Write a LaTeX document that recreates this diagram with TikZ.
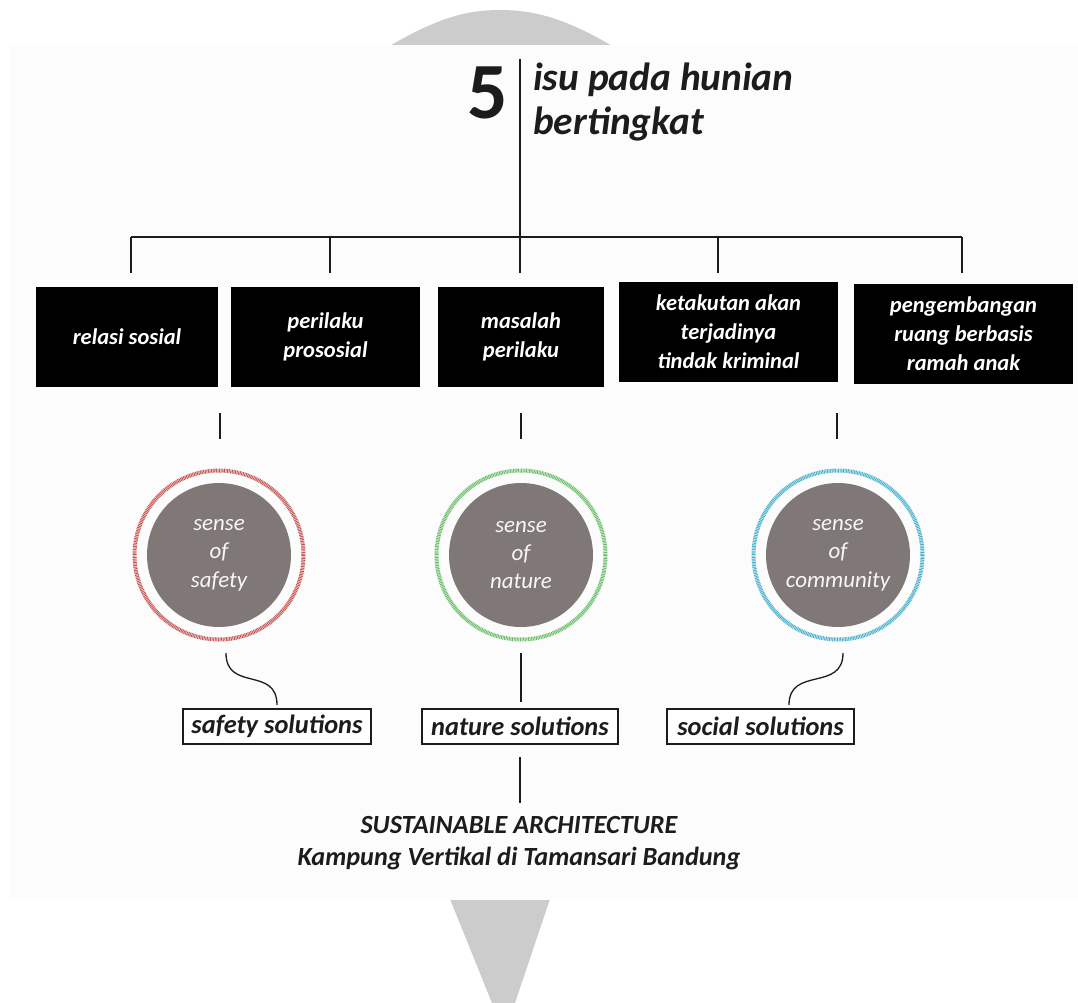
\documentclass[tikz,border=0pt]{standalone}
\usepackage{fontspec}
\setmainfont{Carlito}
\definecolor{bggray}{RGB}{204,204,204}
\definecolor{panel}{RGB}{252,252,252}
\definecolor{diskgray}{RGB}{127,120,119}
\definecolor{ringred}{RGB}{196,84,80}
\definecolor{ringgreen}{RGB}{104,190,104}
\definecolor{ringblue}{RGB}{70,176,204}
\definecolor{ink}{RGB}{28,28,28}
\begin{document}
\begin{tikzpicture}[x=1bp,y=-1bp,
  conn/.style={line width=1.3bp, draw=ink},
  issuebox/.style={fill=black, text=white, minimum height=100bp, minimum width=#1,
    inner sep=0pt, align=center, font=\fontsize{22.6}{29}\selectfont\bfseries\itshape},
  sensedisk/.style={circle, fill=diskgray, minimum size=144bp, inner sep=0pt,
    text=white!94!gray, align=center, font=\fontsize{23}{28.5}\selectfont\itshape},
  ring/.style={line width=4bp, dash pattern=on 0.9bp off 0.7bp},
  solbox/.style={draw=ink, line width=1.3bp, fill=white, minimum height=35bp,
    minimum width=#1, inner sep=0pt, text=ink, font=\fontsize{26.5}{30}\selectfont\bfseries\itshape},
]
\useasboundingbox (0,0) rectangle (1078,1003);
\fill[white] (0,0) rectangle (1078,1003);

% grey arrow shape behind the sheet
\fill[bggray] (388,47) .. controls (440,16) and (470,10) .. (500,10)
  .. controls (530,10) and (562,16) .. (614,47) -- cycle;
\fill[bggray] (450,899) -- (550,899) -- (515,1003) -- (492,1003) -- cycle;

% the sheet
\fill[panel] (10,45) rectangle (1078,900);

% title
\node[inner sep=0pt, text=ink, font=\fontsize{80}{80}\selectfont\bfseries] (num) at (487.5,92.5) {5};
\node[anchor=west, inner sep=0pt, align=left, text=ink,
  font=\fontsize{39.5}{45}\selectfont\bfseries\itshape] (title) at (533,102) {isu pada hunian\\bertingkat};

% tree
\coordinate (top) at (520,59);
\coordinate (hub) at (520,237);
\coordinate (barL) at (131,237);
\coordinate (barR) at (962,237);
\draw[conn] (top) -- (hub);
\draw[line width=2.2bp, draw=ink] (barL) -- (barR);

\node[issuebox=182bp] (i1) at (127,337) {relasi sosial};
\node[issuebox=189bp] (i2) at (325.5,337) {perilaku\\prososial};
\node[issuebox=166bp] (i3) at (521,337) {masalah\\perilaku};
\node[issuebox=219bp] (i4) at (728.5,332) {ketakutan akan\\terjadinya\\tindak kriminal};
\node[issuebox=219bp] (i5) at (963.5,334) {pengembangan\\ruang berbasis\\ramah anak};

\foreach \x/\n in {131/1,330/2,520/3,718/4,962/5}{
  \coordinate (d\n a) at (\x,237);
  \coordinate (d\n b) at (\x,273);
  \draw[conn] (d\n a) -- (d\n b);
}

% senses
\node[sensedisk] (safe) at (219,555) {sense\\of\\safety};
\node[sensedisk] (nat) at (521,555) {sense\\of\\nature};
\node[sensedisk] (comm) at (838,555) {sense\\of\\community};
\draw[ring, draw=ringred] (safe.center) circle[radius=84.5];
\draw[ring, draw=ringgreen] (nat.center) circle[radius=84.5];
\draw[ring, draw=ringblue] (comm.center) circle[radius=84.5];

\coordinate (s1a) at (220,413); \coordinate (s1b) at (220,439);
\coordinate (s2a) at (521,413); \coordinate (s2b) at (521,439);
\coordinate (s3a) at (837,413); \coordinate (s3b) at (837,439);
\draw[conn] (s1a) -- (s1b);
\draw[conn] (s2a) -- (s2b);
\draw[conn] (s3a) -- (s3b);

% solutions
\node[solbox=188bp] (sol1) at (277,726.5) {safety solutions};
\node[solbox=196bp] (sol2) at (520,726.5) {nature solutions};
\node[solbox=187bp] (sol3) at (760.5,726.5) {social solutions};

\coordinate (c1a) at (226,653); \coordinate (c1b) at (277,705);
\coordinate (c2a) at (521,653); \coordinate (c2b) at (521,702);
\coordinate (c3a) at (843,653); \coordinate (c3b) at (789,705);
\draw[conn] (c1a) .. controls (226,692) and (277,666) .. (c1b);
\draw[conn] (c2a) -- (c2b);
\draw[conn] (c3a) .. controls (843,692) and (789,666) .. (c3b);

% result
\coordinate (r1) at (520,757);
\coordinate (r2) at (520,803);
\draw[conn] (r1) -- (r2);
\node[inner sep=0pt, align=center, text=ink,
  font=\fontsize{26.3}{32}\selectfont\bfseries\itshape] (goal) at (519,843)
  {SUSTAINABLE ARCHITECTURE\\Kampung Vertikal di Tamansari Bandung};
\end{tikzpicture}
\end{document}
